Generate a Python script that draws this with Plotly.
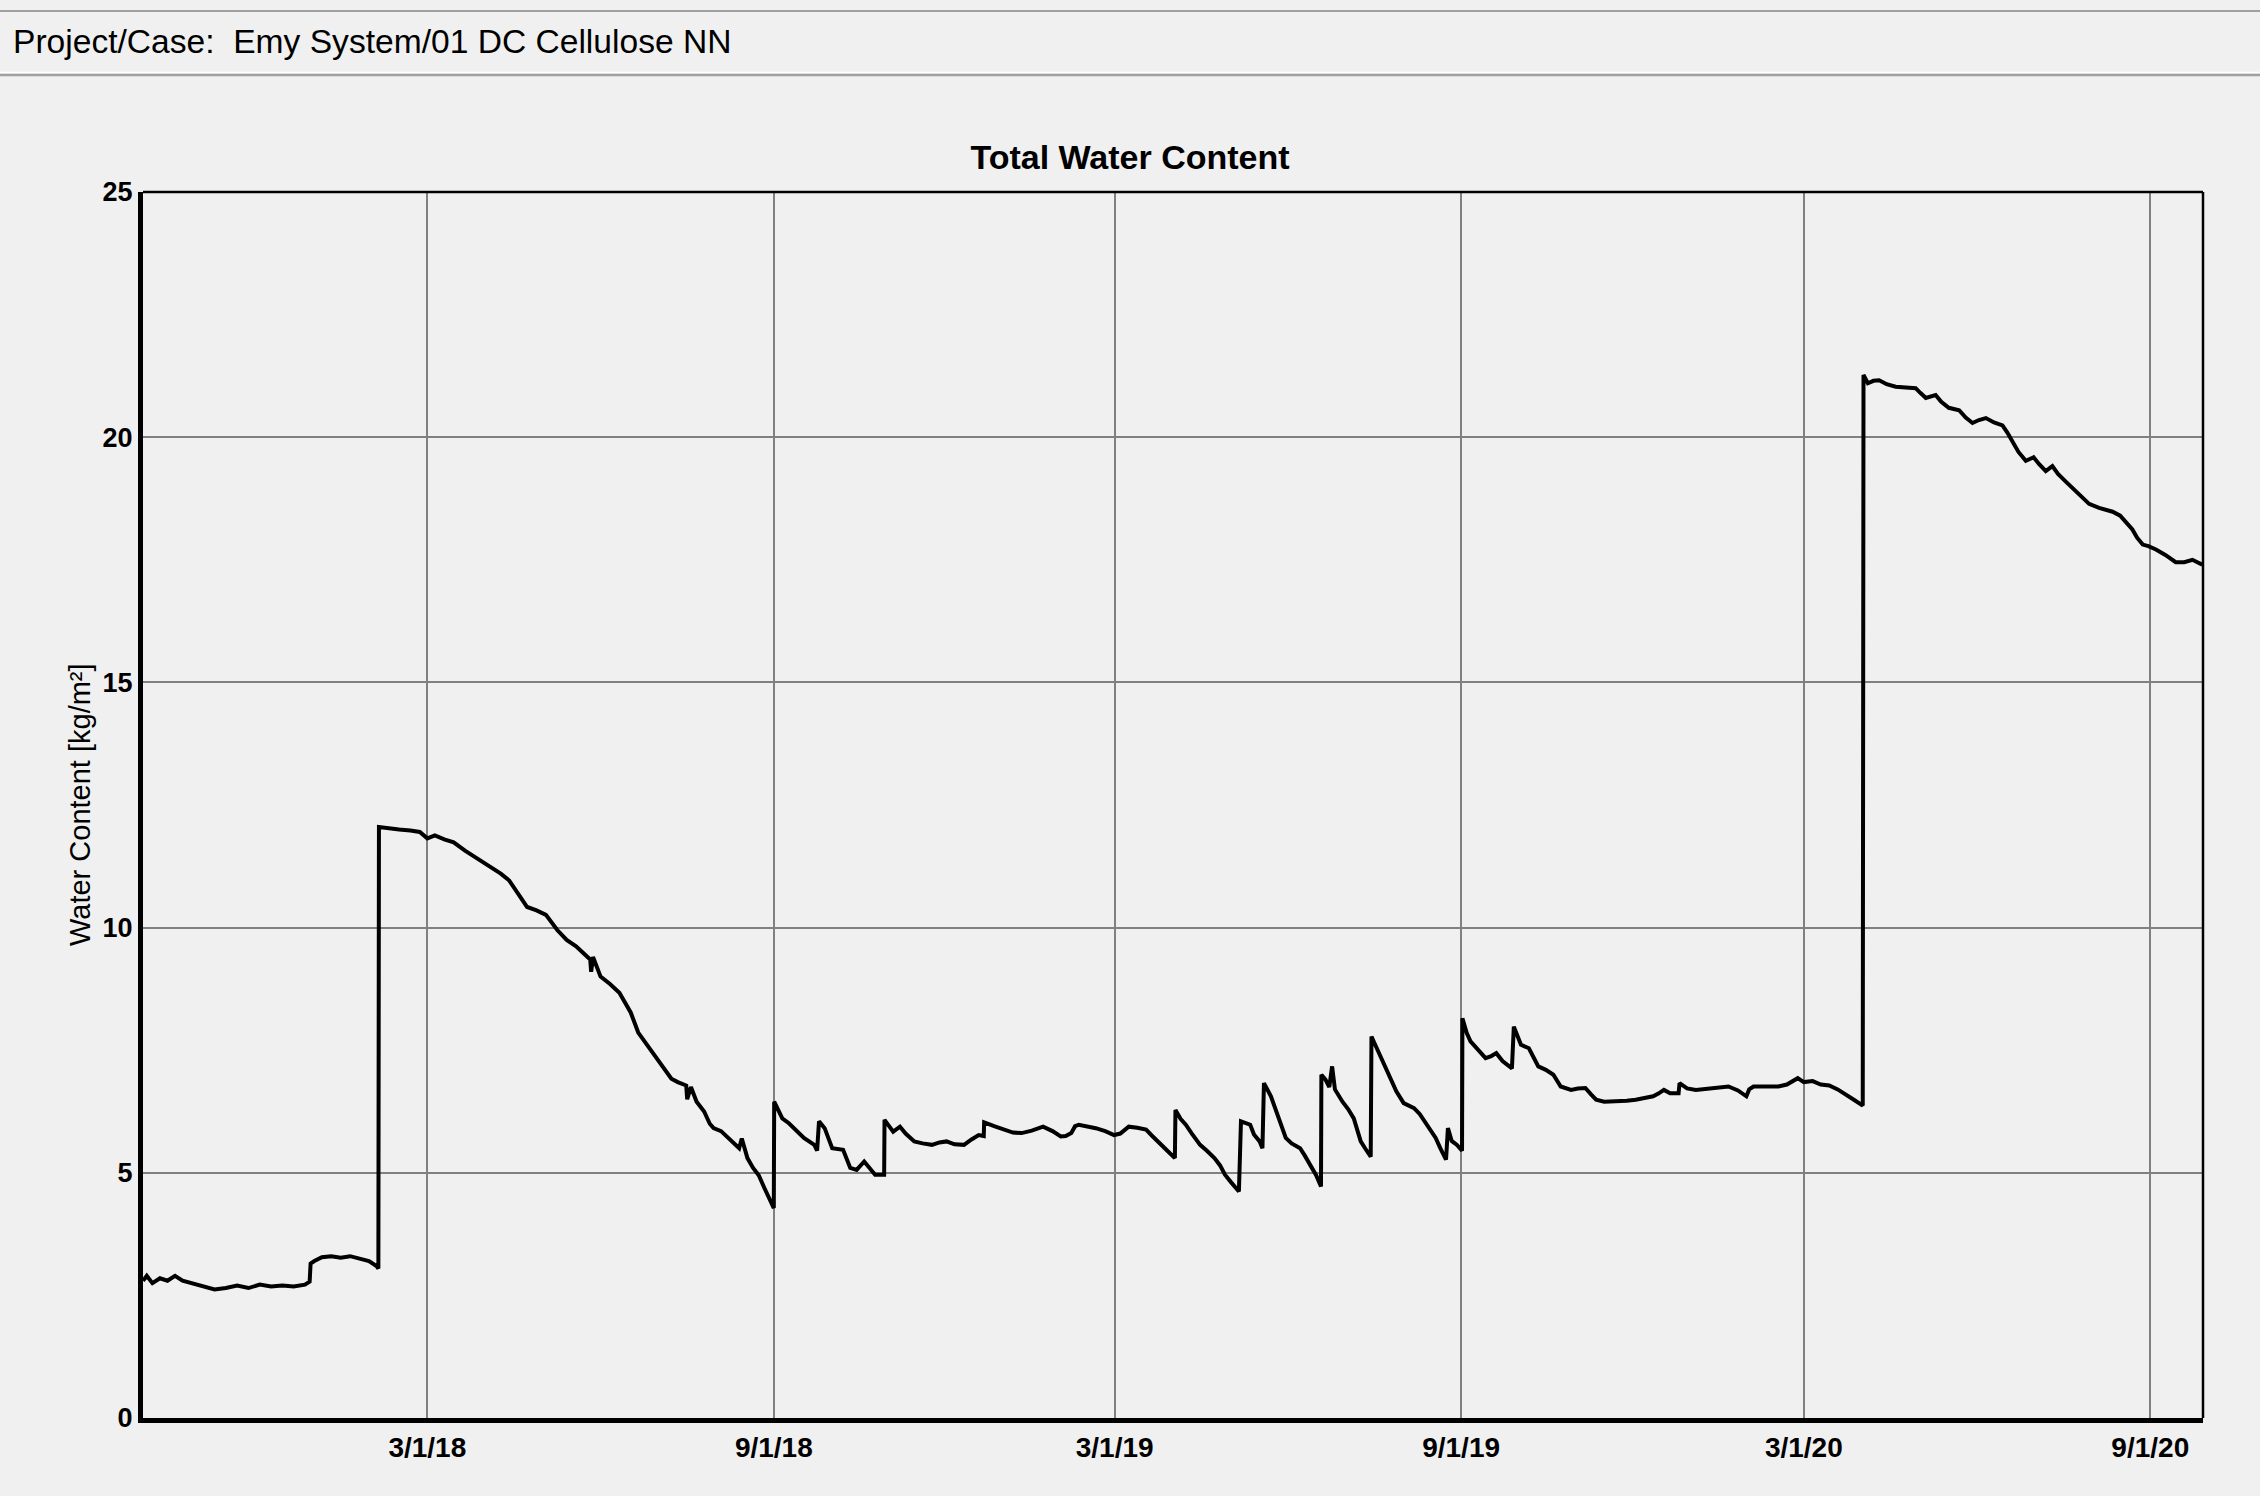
import pandas as pd
import plotly.graph_objects as go

# ---------------- data ----------------
START_DATE = "2017-10-01"
END_DAY = 1094

# days since START_DATE
days = [
    0, 2, 5, 9, 13, 17, 21, 26, 32, 38, 44, 50, 56, 62, 68, 74, 80, 86, 88.5,
    89, 91, 95, 100, 105, 110, 115, 120, 124, 125,
    125.3, 130, 136, 142, 147, 151, 155, 160, 165, 171, 178, 185, 190, 194.5, 200, 204, 209, 214,
    220, 225, 230, 235, 237.5, 238, 239, 243, 248, 253, 259, 263, 268, 273, 277, 280.6, 284,
    288.5, 289, 291, 294, 298, 301, 303, 307, 311, 314, 316.6, 318, 321, 324, 327, 330, 333, 335,
    335.2, 337, 339.5, 343, 347, 351, 356.5, 358, 359, 362, 366, 371.8, 375.6, 379, 383, 386,
    388.8, 393.6, 393.8, 398.4, 402, 405, 409.6, 414, 419, 423, 426.7, 431, 436, 440, 443.8,
    446.5, 446.7, 452, 457, 462, 466.6, 472, 478, 483, 487.4, 490, 493, 495, 497, 502, 506,
    511, 515.7, 519, 523.5, 528, 532.7, 536, 540.5, 544, 548, 548.3, 551, 553.8, 557, 561.4,
    565, 569, 572, 574.6, 578, 582, 583.1, 588, 590, 593, 594.5, 595.3, 599, 603, 606.9, 610,
    614.5, 617, 620, 623, 625.6, 625.8, 628, 630, 631.5, 633, 637, 640, 643, 646.7, 649, 652,
    652.4, 656, 660, 663, 665.6, 669.5, 675, 678, 680.8, 683, 686.5, 689, 692, 693, 695, 697.8,
    700.5, 700.7, 703, 705, 709, 713, 716, 718.7, 722, 727, 728, 731.8, 736, 741, 745, 749,
    752.9, 758.4, 762, 766, 769, 771.7, 776, 783, 788, 792.7, 797, 802, 805, 807.7, 811, 815.5,
    816, 820, 824.7, 829, 834, 838, 842, 847, 851.5, 853, 855.3, 862, 868.5, 873, 878.8, 882,
    886.7, 891, 895.5, 900, 904.4, 909, 913.3, 913.7, 916, 919, 922, 926, 930.8, 936, 941.4,
    944, 946.8, 952, 955, 959, 964.5, 968, 971.6, 975, 978.7, 983, 987.5, 990, 992.8, 996,
    999.9, 1004, 1007, 1010.5, 1014, 1017, 1021, 1028, 1033.5, 1038.8, 1046, 1050, 1053,
    1056.5, 1059, 1062, 1065, 1069, 1074, 1079.5, 1084, 1088.4, 1091, 1093.6,
]

water_content = [
    2.80, 2.90, 2.75, 2.85, 2.80, 2.90, 2.80, 2.75, 2.68, 2.62, 2.65, 2.70, 2.65, 2.72, 2.68, 2.70, 2.68, 2.72, 2.78,
    3.15, 3.20, 3.28, 3.30, 3.27, 3.30, 3.25, 3.20, 3.10, 3.05,
    12.05, 12.02, 12.00, 11.98, 11.95, 11.82, 11.88, 11.80, 11.74, 11.57, 11.40, 11.23, 11.10, 10.96, 10.65, 10.42, 10.35, 10.26,
    9.95, 9.75, 9.62, 9.45, 9.35, 9.10, 9.40, 9.00, 8.85, 8.67, 8.27, 7.86, 7.60, 7.32, 7.10, 6.92, 6.85,
    6.78, 6.50, 6.75, 6.45, 6.25, 6.00, 5.91, 5.85, 5.71, 5.60, 5.50, 5.70, 5.30, 5.10, 4.95, 4.69, 4.45, 4.28,
    6.45, 6.30, 6.11, 6.01, 5.85, 5.71, 5.57, 5.45, 6.05, 5.91, 5.50, 5.47, 5.10, 5.06, 5.23, 5.10,
    4.96, 4.96, 6.08, 5.84, 5.94, 5.80, 5.64, 5.60, 5.57, 5.62, 5.64, 5.58, 5.57, 5.68, 5.77,
    5.75, 6.03, 5.95, 5.88, 5.82, 5.81, 5.86, 5.94, 5.85, 5.74, 5.75, 5.81, 5.95, 5.98, 5.95, 5.91,
    5.85, 5.77, 5.80, 5.94, 5.92, 5.88, 5.75, 5.57, 5.45, 5.30, 6.28, 6.10, 5.98, 5.80, 5.57,
    5.45, 5.30, 5.15, 4.96, 4.80, 4.62, 6.05, 5.98, 5.78, 5.64, 5.50, 6.83, 6.56, 6.11, 5.71, 5.60,
    5.50, 5.35, 5.16, 4.95, 4.72, 7.00, 6.90, 6.75, 7.17, 6.70, 6.45, 6.30, 6.11, 5.64, 5.50, 5.33,
    7.78, 7.47, 7.13, 6.85, 6.66, 6.42, 6.32, 6.20, 6.05, 5.90, 5.71, 5.50, 5.27, 5.91, 5.65, 5.57,
    5.45, 8.15, 7.85, 7.68, 7.50, 7.34, 7.38, 7.44, 7.28, 7.13, 7.98, 7.61, 7.54, 7.17, 7.10, 7.00,
    6.76, 6.69, 6.72, 6.73, 6.60, 6.49, 6.45, 6.45, 6.47, 6.49, 6.52, 6.56, 6.62, 6.69, 6.62, 6.62,
    6.83, 6.72, 6.69, 6.71, 6.73, 6.74, 6.76, 6.68, 6.56, 6.70, 6.76, 6.76, 6.76, 6.80, 6.93, 6.85,
    6.87, 6.80, 6.78, 6.70, 6.60, 6.48, 6.37, 21.27, 21.10, 21.15, 21.16, 21.08, 21.03, 21.02, 21.00,
    20.90, 20.80, 20.86, 20.72, 20.60, 20.55, 20.40, 20.29, 20.35, 20.39, 20.30, 20.24, 20.10, 19.93, 19.70,
    19.52, 19.59, 19.45, 19.31, 19.41, 19.25, 19.10, 18.85, 18.64, 18.56, 18.48, 18.40, 18.28,
    18.12, 17.95, 17.81, 17.78, 17.71, 17.60, 17.45, 17.45, 17.50, 17.45, 17.40,
]

tick_dates = ["2018-03-01", "2018-09-01", "2019-03-01", "2019-09-01", "2020-03-01", "2020-09-01"]
tick_labels = ["3/1/18", "9/1/18", "3/1/19", "9/1/19", "3/1/20", "9/1/20"]
y_ticks = [0, 5, 10, 15, 20, 25]

header_text = "Project/Case:  Emy System/01 DC Cellulose NN"
chart_title = "Total Water Content"
y_title = "Water Content [kg/m²]"

# ---------------- figure ----------------
start = pd.Timestamp(START_DATE)
x_dates = start + pd.to_timedelta(days, unit="D")
x_end = start + pd.Timedelta(days=END_DAY)

W, H = 2260, 1496
L, R, T, B = 143, 57, 192, 78
PW, PH = W - L - R, H - T - B

def px_x(px):
    return (px - L) / PW

def px_y(py):
    return (H - B - py) / PH

FONT = "Arial, 'Liberation Sans', sans-serif"
BG = "#f0f0f0"

fig = go.Figure()
fig.add_trace(go.Scatter(
    x=x_dates, y=water_content, mode="lines",
    line=dict(color="black", width=4),
    showlegend=False, hoverinfo="x+y",
))

fig.update_layout(
    width=W, height=H,
    margin=dict(l=L, r=R, t=T, b=B),
    paper_bgcolor=BG, plot_bgcolor=BG,
    font=dict(family=FONT, color="black"),
    title=dict(
        text="<b>" + chart_title + "</b>",
        x=0.5, xref="container", xanchor="center",
        y=1 - 157 / H, yref="container", yanchor="middle",
        font=dict(size=34, family=FONT, color="black"),
    ),
    xaxis=dict(
        type="date", range=[start, x_end], autorange=False,
        tickvals=pd.to_datetime(tick_dates), ticktext=["<b>" + t + "</b>" for t in tick_labels],
        tickfont=dict(size=28, family=FONT, color="black"),
        showgrid=True, gridcolor="#808080", gridwidth=2,
        showline=True, linecolor="black", linewidth=5,
        ticks="", zeroline=False,
    ),
    yaxis=dict(
        range=[0, 25], autorange=False,
        tickvals=y_ticks, ticktext=["<b>%d</b>" % v for v in y_ticks],
        tickfont=dict(size=27, family=FONT, color="black"),
        showgrid=True, gridcolor="#808080", gridwidth=2,
        showline=True, linecolor="black", linewidth=5,
        ticks="", zeroline=False,
    ),
    shapes=[
        dict(type="line", xref="paper", yref="paper", x0=0, x1=1, y0=1, y1=1,
             line=dict(color="black", width=2.5)),
        dict(type="line", xref="paper", yref="paper", x0=1, x1=1, y0=0, y1=1,
             line=dict(color="black", width=2.5)),
        dict(type="line", xref="paper", yref="paper", x0=px_x(0), x1=px_x(W),
             y0=px_y(11), y1=px_y(11), line=dict(color="#a0a0a0", width=2)),
        dict(type="line", xref="paper", yref="paper", x0=px_x(0), x1=px_x(W),
             y0=px_y(72.5), y1=px_y(72.5), line=dict(color="#ffffff", width=1.5)),
        dict(type="line", xref="paper", yref="paper", x0=px_x(0), x1=px_x(W),
             y0=px_y(75), y1=px_y(75), line=dict(color="#a0a0a0", width=2.5)),
    ],
    annotations=[
        dict(text=header_text, xref="paper", yref="paper", x=px_x(11), y=px_y(42),
             xanchor="left", yanchor="middle", showarrow=False,
             font=dict(size=33.6, family=FONT, color="black")),
        dict(text=y_title, xref="paper", yref="paper", x=px_x(80), y=0.5,
             xanchor="center", yanchor="middle", textangle=-90, showarrow=False,
             font=dict(size=29, family=FONT, color="black")),
    ],
)

fig.write_html(
    "out.html",
    config={"displayModeBar": False},
    post_script="document.body.style.margin='0';document.body.style.background='#f0f0f0';",
)
